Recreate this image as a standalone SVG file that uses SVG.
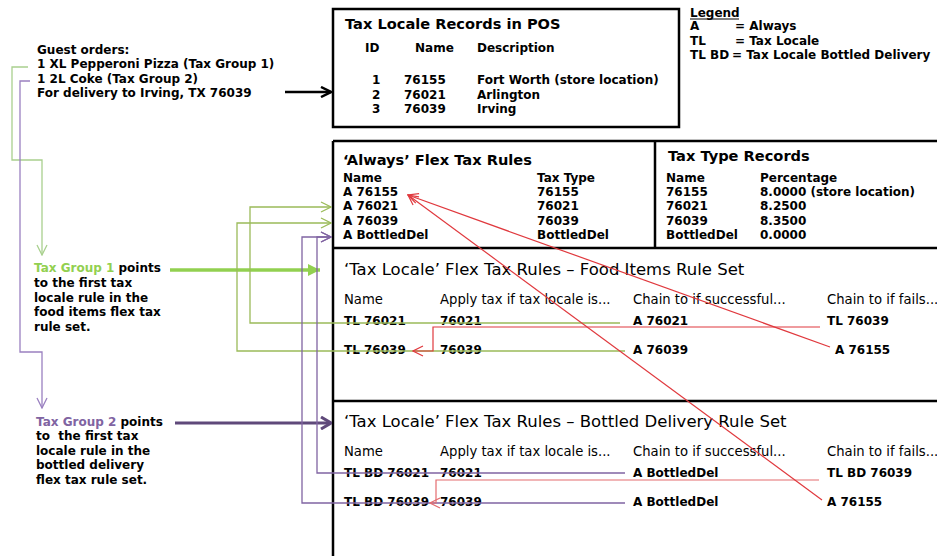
<svg xmlns="http://www.w3.org/2000/svg" width="937" height="556" viewBox="0 0 937 556">
<defs>
<style>
text { font-family: "DejaVu Sans", Verdana, "Liberation Sans", sans-serif; fill:#000; }
.b { font-weight:bold; font-size:12px; }
.tt { font-weight:bold; font-size:14.6px; }
.tr { font-size:16.5px; }
.hd { font-size:13.2px; }
.ln { fill:none; stroke:#000; stroke-width:2.5; }
.c { fill:none; stroke-width:1.3; }
.g { stroke:#9bbb59; }
.gl { stroke:#a9d08e; }
.p { stroke:#8064a2; }
.pl { stroke:#9a80c0; }
.r { stroke:#e0393e; stroke-width:1.2; }
.r2 { stroke:#e46c6f; stroke-width:1.2; }
</style>
<marker id="mBlk" viewBox="0 0 12 12" refX="11" refY="6" markerWidth="12" markerHeight="12" markerUnits="userSpaceOnUse" orient="auto"><path d="M1,1 L11,6 L1,11" fill="none" stroke="#000" stroke-width="2.5"/></marker>
<marker id="mG" viewBox="0 0 12 12" refX="11" refY="6" markerWidth="12" markerHeight="12" markerUnits="userSpaceOnUse" orient="auto"><path d="M1,1 L11,6 L1,11" fill="none" stroke="#9bbb59" stroke-width="1.3"/></marker>
<marker id="mGl" viewBox="0 0 12 12" refX="11" refY="6" markerWidth="12" markerHeight="12" markerUnits="userSpaceOnUse" orient="auto"><path d="M1,1 L11,6 L1,11" fill="none" stroke="#a9d08e" stroke-width="1.3"/></marker>
<marker id="mP" viewBox="0 0 12 12" refX="11" refY="6" markerWidth="12" markerHeight="12" markerUnits="userSpaceOnUse" orient="auto"><path d="M1,1 L11,6 L1,11" fill="none" stroke="#8064a2" stroke-width="1.3"/></marker>
<marker id="mPl" viewBox="0 0 12 12" refX="11" refY="6" markerWidth="12" markerHeight="12" markerUnits="userSpaceOnUse" orient="auto"><path d="M1,1 L11,6 L1,11" fill="none" stroke="#9a80c0" stroke-width="1.3"/></marker>
<marker id="mR" viewBox="0 0 12 12" refX="11" refY="6" markerWidth="12" markerHeight="12" markerUnits="userSpaceOnUse" orient="auto"><path d="M1,1 L11,6 L1,11" fill="none" stroke="#e0393e" stroke-width="1.2"/></marker>
<marker id="mR2" viewBox="0 0 12 12" refX="11" refY="6" markerWidth="12" markerHeight="12" markerUnits="userSpaceOnUse" orient="auto"><path d="M1,1 L11,6 L1,11" fill="none" stroke="#e46c6f" stroke-width="1.2"/></marker>
<marker id="mGfill" viewBox="0 0 12 12" refX="12" refY="6" markerWidth="12" markerHeight="12" markerUnits="userSpaceOnUse" orient="auto"><path d="M0,0 L12,6 L0,12 Z" fill="#92d050"/></marker>
<marker id="mPd" viewBox="0 0 12 14" refX="11" refY="7" markerWidth="12" markerHeight="14" markerUnits="userSpaceOnUse" orient="auto"><path d="M1,1 L11,7 L1,13" fill="none" stroke="#5f497a" stroke-width="3"/></marker>
</defs>
<rect x="0" y="0" width="937" height="556" fill="#fff"/>

<g id="guest-orders">
<text class="b" x="37" y="54">Guest orders:</text>
<text class="b" x="37" y="68">1 XL Pepperoni Pizza (Tax Group 1)</text>
<text class="b" x="37" y="83">1 2L Coke (Tax Group 2)</text>
<text class="b" x="37" y="97">For delivery to Irving, TX 76039</text>
</g>

<g id="legend">
<text class="b" x="690" y="17">Legend</text>
<line x1="690" y1="19" x2="739" y2="19" stroke="#000" stroke-width="1.2"/>
<text class="b" x="690" y="30">A</text><text class="b" x="735" y="30">= Always</text>
<text class="b" x="690" y="45">TL</text><text class="b" x="735" y="45">= Tax Locale</text>
<text class="b" x="690" y="59">TL BD</text><text class="b" x="732" y="59">= Tax Locale Bottled Delivery</text>
</g>

<g id="tax-locale-records">
<rect class="ln" x="333" y="9" width="346" height="118"/>
<text class="tt" x="345" y="29">Tax Locale Records in POS</text>
<text class="b" x="365" y="52">ID</text>
<text class="b" x="415" y="52">Name</text>
<text class="b" x="477" y="52">Description</text>
<text class="b" x="372" y="84">1</text><text class="b" x="404" y="84">76155</text><text class="b" x="477" y="84">Fort Worth (store location)</text>
<text class="b" x="372" y="99">2</text><text class="b" x="404" y="99">76021</text><text class="b" x="477" y="99">Arlington</text>
<text class="b" x="372" y="113">3</text><text class="b" x="404" y="113">76039</text><text class="b" x="477" y="113">Irving</text>
</g>

<g id="always-rules">
<path class="ln" d="M333,141 H937 M333,141 V556 M655,141 V248"/>
<text class="tt" x="343" y="165">‘Always’ Flex Tax Rules</text>
<text class="b" x="343" y="182">Name</text><text class="b" x="537" y="182">Tax Type</text>
<text class="b" x="343" y="196">A 76155</text><text class="b" x="537" y="196">76155</text>
<text class="b" x="343" y="210">A 76021</text><text class="b" x="537" y="210">76021</text>
<text class="b" x="343" y="225">A 76039</text><text class="b" x="537" y="225">76039</text>
<text class="b" x="343" y="239">A BottledDel</text><text class="b" x="537" y="239">BottledDel</text>
</g>

<g id="tax-type-records">
<text class="tt" x="668" y="161">Tax Type Records</text>
<text class="b" x="666" y="182">Name</text><text class="b" x="760" y="182">Percentage</text>
<text class="b" x="666" y="196">76155</text><text class="b" x="760" y="196">8.0000 (store location)</text>
<text class="b" x="666" y="210">76021</text><text class="b" x="760" y="210">8.2500</text>
<text class="b" x="666" y="225">76039</text><text class="b" x="760" y="225">8.3500</text>
<text class="b" x="666" y="239">BottledDel</text><text class="b" x="760" y="239">0.0000</text>
</g>

<g id="food-rules">
<path class="ln" d="M333,248 H937"/>
<text class="tr" x="344" y="275">‘Tax Locale’ Flex Tax Rules – Food Items Rule Set</text>
<text class="hd" x="344" y="304">Name</text>
<text class="hd" x="440" y="304">Apply tax if tax locale is...</text>
<text class="hd" x="633" y="304">Chain to if successful...</text>
<text class="hd" x="827" y="304">Chain to if fails...</text>
<text class="b" x="344" y="325">TL 76021</text><text class="b" x="440" y="325">76021</text><text class="b" x="633" y="325">A 76021</text><text class="b" x="827" y="325">TL 76039</text>
<text class="b" x="344" y="354">TL 76039</text><text class="b" x="440" y="354">76039</text><text class="b" x="633" y="354">A 76039</text><text class="b" x="835" y="354">A 76155</text>
</g>

<g id="bottled-rules">
<path class="ln" d="M333,401 H937"/>
<text class="tr" x="344" y="427">‘Tax Locale’ Flex Tax Rules – Bottled Delivery Rule Set</text>
<text class="hd" x="344" y="456">Name</text>
<text class="hd" x="440" y="456">Apply tax if tax locale is...</text>
<text class="hd" x="633" y="456">Chain to if successful...</text>
<text class="hd" x="827" y="456">Chain to if fails...</text>
<text class="b" x="344" y="477">TL BD 76021</text><text class="b" x="440" y="477">76021</text><text class="b" x="633" y="477">A BottledDel</text><text class="b" x="827" y="477">TL BD 76039</text>
<text class="b" x="344" y="506">TL BD 76039</text><text class="b" x="440" y="506">76039</text><text class="b" x="633" y="506">A BottledDel</text><text class="b" x="827" y="506">A 76155</text>
</g>

<g id="group1-note">
<text class="b" x="34" y="272"><tspan fill="#92d050">Tax Group 1</tspan> points</text>
<text class="b" x="34" y="287">to the first tax</text>
<text class="b" x="34" y="302">locale rule in the</text>
<text class="b" x="34" y="316">food items flex tax</text>
<text class="b" x="34" y="331">rule set.</text>
</g>

<g id="group2-note">
<text class="b" x="36" y="426"><tspan fill="#8064a2">Tax Group 2</tspan> points</text>
<text class="b" x="36" y="440" xml:space="preserve">to  the first tax</text>
<text class="b" x="36" y="455">locale rule in the</text>
<text class="b" x="36" y="469">bottled delivery</text>
<text class="b" x="36" y="484">flex tax rule set.</text>
</g>

<g id="connectors">
<path d="M285,92 H331" fill="none" stroke="#000" stroke-width="2.5" marker-end="url(#mBlk)"/>
<path class="c gl" d="M28,67 H12 V160 H42 V255" marker-end="url(#mGl)"/>
<path class="c pl" d="M30,81 H20 V352 H42 V408" marker-end="url(#mPl)"/>
<path d="M170,270 H320" fill="none" stroke="#92d050" stroke-width="3.5" marker-end="url(#mGfill)"/>
<path d="M175,423 H331" fill="none" stroke="#5f497a" stroke-width="3" marker-end="url(#mPd)"/>
<path class="c g" d="M620,323 H250 V207 H331" marker-end="url(#mG)"/>
<path class="c g" d="M625,351 H237 V223 H331" marker-end="url(#mG)"/>
<path class="c p" d="M625,473 H317 V237 H331" marker-end="url(#mP)"/>
<path class="c p" d="M625,503 H302 V237 H331" marker-end="url(#mP)"/>
<path class="c r" d="M820,327 H433 V351 H413" marker-end="url(#mR)"/>
<path class="c r" d="M830,347 L408,195" marker-end="url(#mR)"/>
<path class="c r2" d="M819,480 H436 V503 H430" marker-end="url(#mR2)"/>
<path class="c r" d="M822,500 L408,195" marker-end="url(#mR)"/>
</g>
</svg>
